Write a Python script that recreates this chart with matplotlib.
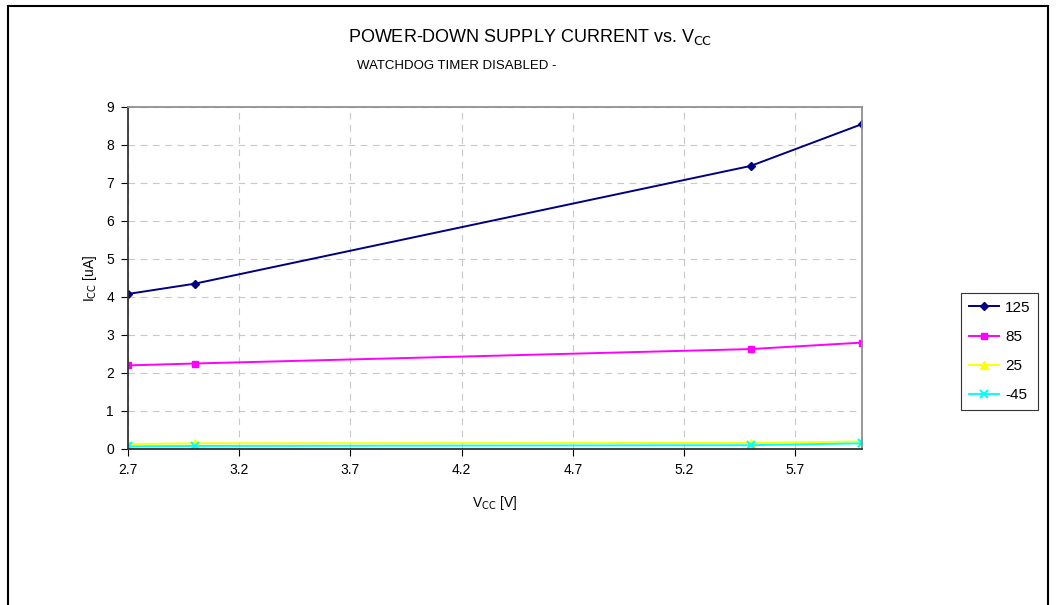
import matplotlib.pyplot as plt
from matplotlib.patches import Rectangle

plt.rcParams["font.family"] = ["Liberation Sans", "DejaVu Sans"]

vcc = [2.7, 3.0, 5.5, 6.0]
i_125 = [4.08, 4.35, 7.45, 8.55]
i_85 = [2.20, 2.25, 2.63, 2.80]
i_25 = [0.13, 0.15, 0.16, 0.20]
i_m45 = [0.07, 0.08, 0.10, 0.15]

x_ticks = [2.7, 3.2, 3.7, 4.2, 4.7, 5.2, 5.7]
y_ticks = [0, 1, 2, 3, 4, 5, 6, 7, 8, 9]

fig = plt.figure(figsize=(10.59, 6.05), dpi=100)
ax = fig.add_axes([128 / 1059, 1 - 449 / 605, 734 / 1059, 342 / 605])

# outer chart frame
fig.patches.append(Rectangle((8 / 1059, -0.05), 1040 / 1059, 1.05 - 6 / 605,
                             transform=fig.transFigure, fill=False,
                             edgecolor="black", linewidth=1.5))

ax.plot(vcc, i_125, color="#000080", marker="D", markersize=4.5, linewidth=1.4, label="125")
ax.plot(vcc, i_85, color="#FF00FF", marker="s", markersize=5, linewidth=1.4, label="85")
ax.plot(vcc, i_25, color="#FFFF00", marker="^", markersize=5.5, linewidth=1.4, label="25")
ax.plot(vcc, i_m45, color="#00FFFF", marker="x", markersize=5.5, markeredgewidth=1.5,
        linewidth=1.4, label="-45")

ax.set_xlim(2.7, 6.0)
ax.set_ylim(0, 9)
ax.set_xticks(x_ticks)
ax.set_xticklabels([str(t) for t in x_ticks])
ax.set_yticks(y_ticks)
ax.tick_params(labelsize=10, length=5, direction="out", pad=5)
ax.grid(True, linestyle=(0, (6, 5)), color="#c8c8c8", linewidth=0.8)

ax.spines["top"].set_color("#909090")
ax.spines["right"].set_color("#909090")
ax.spines["left"].set_color("#333333")
ax.spines["bottom"].set_color("#333333")
for s in ax.spines.values():
    s.set_linewidth(1.3)

ax.set_xlabel("V$_{\\mathrm{CC}}$ [V]", fontsize=10, labelpad=12)
ax.set_ylabel("I$_{\\mathrm{CC}}$ [uA]", fontsize=10, labelpad=5)

fig.text(530 / 1059, 1 - 37 / 605, "POWER-DOWN SUPPLY CURRENT vs. V$_{\\mathrm{CC}}$",
         ha="center", va="center", fontsize=13)
fig.text(357 / 1059, 1 - 66 / 605, "WATCHDOG TIMER DISABLED -",
         ha="left", va="center", fontsize=9.5)

leg = fig.legend(loc="upper left", bbox_to_anchor=(961 / 1059, 1 - 293 / 605),
                 borderaxespad=0, fontsize=11, frameon=True, fancybox=False,
                 edgecolor="black", handlelength=2.0, borderpad=0.5,
                 labelspacing=1.0, handletextpad=0.4)
leg.get_frame().set_linewidth(0.8)

fig.savefig("out.png", dpi=100)
